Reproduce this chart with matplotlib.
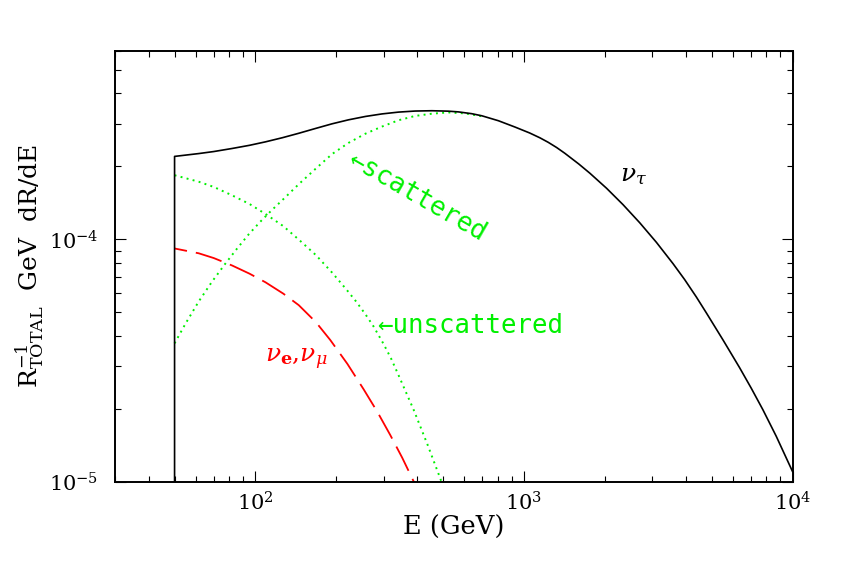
import matplotlib
matplotlib.use("Agg")
import matplotlib.pyplot as plt
from matplotlib.ticker import NullFormatter

plt.rcParams['font.family'] = 'DejaVu Serif'
plt.rcParams['mathtext.fontset'] = 'dejavuserif'

# energies in GeV, rates in GeV^-1
tau_energy = [50, 50, 61.5, 70, 81.9, 95, 109, 126, 145, 167, 193, 222, 257, 296,
              341, 393, 454, 523, 570, 639, 697, 803, 926, 1050, 1147, 1231, 1323,
              1419, 1600, 1760, 2030, 2339, 2698, 3113, 3589, 3967, 4385, 4777,
              5508, 6353, 7022, 7757, 8697, 10000]
tau_rate = [1.0e-5, 2.20e-4, 2.26e-4, 2.304e-4, 2.372e-4, 2.444e-4, 2.526e-4,
            2.627e-4, 2.740e-4, 2.866e-4, 2.998e-4, 3.113e-4, 3.215e-4, 3.293e-4,
            3.350e-4, 3.384e-4, 3.394e-4, 3.380e-4, 3.357e-4, 3.300e-4, 3.235e-4,
            3.087e-4, 2.907e-4, 2.748e-4, 2.624e-4, 2.515e-4, 2.394e-4, 2.267e-4,
            2.047e-4, 1.875e-4, 1.626e-4, 1.391e-4, 1.172e-4, 9.73e-5, 7.95e-5,
            6.83e-5, 5.79e-5, 4.98e-5, 3.855e-5, 2.96e-5, 2.435e-5, 1.986e-5,
            1.544e-5, 1.105e-5]

scattered_energy = [50, 55, 61.5, 69, 77.4, 85.5, 94.4, 104, 115, 129, 145, 167,
                    193, 222, 257, 296, 341, 393, 454, 523, 602, 697]
scattered_rate = [3.73e-5, 4.51e-5, 5.55e-5, 6.71e-5, 7.97e-5, 9.18e-5, 1.05e-4,
                  1.18e-4, 1.32e-4, 1.49e-4, 1.69e-4, 1.95e-4, 2.25e-4, 2.50e-4,
                  2.73e-4, 2.92e-4, 3.10e-4, 3.23e-4, 3.30e-4, 3.34e-4, 3.31e-4,
                  3.22e-4]

unscattered_energy = [50, 61.5, 70, 81.9, 95, 109, 127, 145, 168, 193, 219, 238,
                      257, 275, 300, 320, 341, 388, 437, 487, 495]
unscattered_rate = [1.84e-4, 1.73e-4, 1.646e-4, 1.52e-4, 1.401e-4, 1.274e-4,
                    1.135e-4, 9.99e-5, 8.62e-5, 7.30e-5, 6.19e-5, 5.52e-5, 4.91e-5,
                    4.39e-5, 3.71e-5, 3.23e-5, 2.76e-5, 1.99e-5, 1.43e-5, 1.04e-5,
                    9.9e-6]

emu_energy = [50, 61.5, 70, 81.9, 95, 109, 127, 145, 168, 190, 220, 253, 285, 318,
              352, 386, 395]
emu_rate = [9.18e-5, 8.77e-5, 8.38e-5, 7.81e-5, 7.23e-5, 6.66e-5, 5.98e-5, 5.36e-5,
            4.56e-5, 3.85e-5, 3.07e-5, 2.41e-5, 1.94e-5, 1.56e-5, 1.26e-5, 1.02e-5,
            9.7e-6]

x_ticks = [1e2, 1e3, 1e4]
x_tick_labels = [r'$10^{2}$', r'$10^{3}$', r'$10^{4}$']
y_ticks = [1e-5, 1e-4]
y_tick_labels = [r'$10^{-5}$', r'$10^{-4}$']

green = '#00f000'
red = '#ff0000'

fig = plt.figure(figsize=(8.62, 5.75), dpi=100)
ax = fig.add_axes([0.1334, 0.1617, 0.786, 0.7501])

ax.plot(scattered_energy, scattered_rate, color=green, lw=1.4, linestyle=(0, (1, 2.2)))
ax.plot(unscattered_energy, unscattered_rate, color=green, lw=1.4, linestyle=(0, (1, 2.2)))
ax.plot(emu_energy, emu_rate, color=red, lw=1.3, linestyle=(8, (15, 5)))
ax.plot(tau_energy, tau_rate, color='black', lw=1.2)

ax.set_xscale('log')
ax.set_yscale('log')
ax.set_xlim(30, 1e4)
ax.set_ylim(1e-5, 6e-4)

ax.set_xticks(x_ticks, x_tick_labels)
ax.set_yticks(y_ticks, y_tick_labels)
ax.xaxis.set_minor_formatter(NullFormatter())
ax.yaxis.set_minor_formatter(NullFormatter())
ax.tick_params(which='both', direction='in', top=True, right=True, width=0.8)
ax.tick_params(which='major', length=8, labelsize=15)
ax.tick_params(which='minor', length=4)
ax.tick_params(axis='x', which='major', pad=7)
ax.tick_params(axis='y', which='major', pad=12)
for spine in ax.spines.values():
    spine.set_linewidth(1.4)

ax.set_xlabel('E (GeV)', fontsize=18.5)
ax.xaxis.set_label_coords(0.5, -0.076)
ax.set_ylabel(r'R$^{-1}_{\rm TOTAL}$  GeV  dR/dE', fontsize=18)
ax.yaxis.set_label_coords(-0.10, 0.5)

mono = ['DejaVu Sans Mono']
ax.text(218.5, 2.046e-4, '\u2190scattered', color=green, fontsize=18.5, family=mono,
        rotation=-30, rotation_mode='anchor', ha='left', va='baseline')
ax.text(283.5, 4.10e-5, '\u2190unscattered', color=green, fontsize=18.5, family=mono,
        ha='left', va='baseline')
ax.text(2275, 1.73e-4, r'$\nu_\tau$', color='black', fontsize=18,
        ha='left', va='baseline')
ax.text(109, 3.13e-5, r'$\nu_{\mathbf{e}}{,}\nu_{\mu}$', color=red, fontsize=18,
        ha='left', va='baseline')

fig.savefig('out.png', dpi=100)
